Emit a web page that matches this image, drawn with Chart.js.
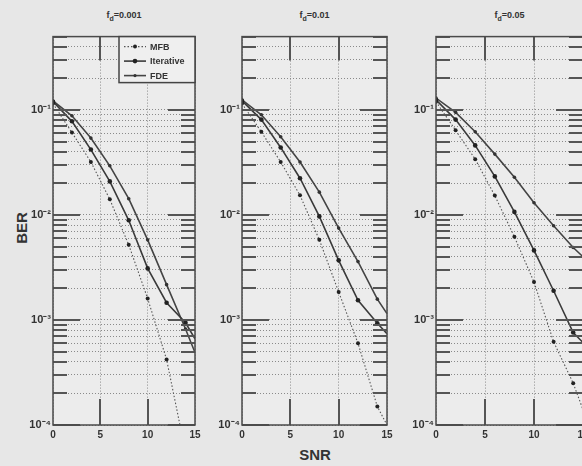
<!DOCTYPE html>
<html>
<head>
<meta charset="utf-8">
<script src="https://cdn.jsdelivr.net/npm/chart.js@4.4.0/dist/chart.umd.min.js"></script>
<style>
  html, body { margin: 0; padding: 0; }
  body {
    width: 582px; height: 466px; overflow: hidden; position: relative;
    background: #e7e7e7; color: #333;
    font-family: "Liberation Sans", Arial, sans-serif;
  }
  canvas { position: absolute; }
  .title {
    position: absolute; top: 10px; transform: translateX(-50%);
    font-size: 9px; font-weight: bold; white-space: nowrap;
  }
  .title sub { font-size: 7px; }
  #ylab {
    position: absolute; left: 21px; top: 228px;
    transform: translate(-50%, -50%) rotate(-90deg);
    font-size: 15px; font-weight: bold;
  }
  #xlab {
    position: absolute; left: 315px; top: 454px;
    transform: translate(-50%, -50%);
    font-size: 15px; font-weight: bold;
  }
</style>
</head>
<body>
<div id="ylab">BER</div>
<div id="xlab">SNR</div>
<script>
// Dữ liệu
const snr = [0, 2, 4, 6, 8, 10, 12, 14, 15];
const dopplers = ['0.001', '0.01', '0.05'];
const seriesNames = ['MFB', 'Iterative', 'FDE'];

// f_d = 0.001
const mfb1  = [0.115, 0.061, 0.032, 0.0141, 0.0052, 0.0016, 0.00042, 0.000055, 0.000025];
const iter1 = [0.12, 0.078, 0.042, 0.0209, 0.0089, 0.0031, 0.00146, 0.00094, 0.00066];
const fde1  = [0.122, 0.088, 0.054, 0.0294, 0.0143, 0.0058, 0.00217, 0.00082, 0.00049];

// f_d = 0.01
const mfb2  = [0.115, 0.062, 0.032, 0.0154, 0.0058, 0.00185, 0.0006, 0.00015, 0.0001];
const iter2 = [0.122, 0.081, 0.044, 0.0224, 0.0097, 0.0037, 0.00154, 0.00093, 0.00074];
const fde2  = [0.125, 0.09, 0.0556, 0.032, 0.0165, 0.0075, 0.0036, 0.00158, 0.00115];

// f_d = 0.05
const mfb3  = [0.12, 0.064, 0.034, 0.0153, 0.0062, 0.0023, 0.00062, 0.00025, 0.00014];
const iter3 = [0.125, 0.081, 0.046, 0.0233, 0.0107, 0.0046, 0.0019, 0.00076, 0.00061];
const fde3  = [0.13, 0.095, 0.062, 0.038, 0.0229, 0.0131, 0.0079, 0.0049, 0.004];

// Trục
const xTicks = [0, 5, 10, 15];
const yMajorTicks = [1e-4, 1e-3, 1e-2, 1e-1];
const yMajorLabels = ['10⁻⁴', '10⁻³', '10⁻²', '10⁻¹'];
const yMultipliers = [1, 2, 3, 4, 5, 6, 7, 8, 9];
const yMax = 0.5;

const panels = [
    { mfb: mfb1, iter: iter1, fde: fde1, left: 53, right: 195, legend: true },
    { mfb: mfb2, iter: iter2, fde: fde2, left: 242, right: 387, legend: false },
    { mfb: mfb3, iter: iter3, fde: fde3, left: 436, right: 583, legend: false }
];

const yTicks = [];
yMajorTicks.forEach(d => yMultipliers.forEach(m => {
    const v = d * m;
    if (v <= yMax * 1.0001) yTicks.push(v);
}));

function isMajor(v) {
    return yMajorTicks.findIndex(t => Math.abs(t - v) / t < 1e-6);
}

function toPoints(values) {
    return values.map((v, i) => ({ x: snr[i], y: v }));
}

// Chỉ vẽ điểm đánh dấu tại SNR chẵn
function markerRadius(r) {
    return ctx => (snr[ctx.dataIndex] % 2 === 0 ? r : 0);
}

// Nền vùng vẽ
const areaBg = {
    id: 'areaBg',
    beforeDraw(chart) {
        const { ctx, chartArea: a } = chart;
        ctx.save();
        ctx.fillStyle = '#ececec';
        ctx.fillRect(a.left, a.top, a.width, a.height);
        ctx.restore();
    }
};

// Khung và vạch chia bên trong (kiểu MATLAB)
const framePlugin = {
    id: 'frame',
    afterDraw(chart) {
        const { ctx, chartArea: a, scales } = chart;
        ctx.save();
        ctx.strokeStyle = '#555';
        ctx.lineWidth = 2;
        ctx.beginPath();
        scales.y.ticks.forEach(t => {
            const y = Math.round(scales.y.getPixelForValue(t.value));
            const len = isMajor(t.value) >= 0 ? 27 : 14;
            ctx.moveTo(a.left, y); ctx.lineTo(a.left + len, y);
            ctx.moveTo(a.right - len, y); ctx.lineTo(a.right, y);
        });
        scales.x.ticks.forEach(t => {
            if (t.value <= scales.x.min || t.value >= scales.x.max) return;
            const x = Math.round(scales.x.getPixelForValue(t.value));
            ctx.moveTo(x, a.top); ctx.lineTo(x, a.top + 24);
            ctx.moveTo(x, a.bottom); ctx.lineTo(x, a.bottom - 26);
        });
        ctx.stroke();
        ctx.lineWidth = 1.5;
        ctx.strokeStyle = '#4a4a4a';
        ctx.strokeRect(a.left, a.top, a.width, a.height);
        ctx.restore();
    }
};

// Chú thích bên trong ô đầu tiên
const innerLegend = {
    id: 'innerLegend',
    afterDraw(chart, args, opts) {
        if (!opts.display) return;
        const { ctx, chartArea: a } = chart;
        const w = 76, h = 46;
        const x0 = a.right - w, y0 = a.top;
        ctx.save();
        ctx.fillStyle = '#efefef';
        ctx.fillRect(x0, y0, w, h);
        ctx.strokeStyle = '#444';
        ctx.lineWidth = 1.5;
        ctx.strokeRect(x0, y0, w, h);
        chart.data.datasets.forEach((ds, i) => {
            const y = y0 + 10 + i * 14.5;
            ctx.strokeStyle = ds.borderColor;
            ctx.lineWidth = ds.borderWidth;
            ctx.setLineDash(ds.borderDash || []);
            ctx.beginPath();
            ctx.moveTo(x0 + 5, y); ctx.lineTo(x0 + 27, y);
            ctx.stroke();
            ctx.setLineDash([]);
            ctx.fillStyle = ds.pointBackgroundColor;
            ctx.beginPath();
            ctx.arc(x0 + 16, y, ds.legendRadius, 0, Math.PI * 2);
            ctx.fill();
            ctx.fillStyle = '#333';
            ctx.font = 'bold 9px "Liberation Sans", Arial, sans-serif';
            ctx.textBaseline = 'middle';
            ctx.fillText(ds.label, x0 + 31, y + 0.5);
        });
        ctx.restore();
    }
};

function makeDatasets(p) {
    return [
        {
            label: seriesNames[0],
            data: toPoints(p.mfb),
            borderColor: '#555',
            borderWidth: 1.1,
            borderDash: [1.5, 2],
            pointRadius: markerRadius(2),
            pointBackgroundColor: '#222',
            pointBorderWidth: 0,
            legendRadius: 2
        },
        {
            label: seriesNames[1],
            data: toPoints(p.iter),
            borderColor: '#3a3a3a',
            borderWidth: 1.6,
            pointRadius: markerRadius(2.3),
            pointBackgroundColor: '#222',
            pointBorderWidth: 0,
            legendRadius: 2.3
        },
        {
            label: seriesNames[2],
            data: toPoints(p.fde),
            borderColor: '#444',
            borderWidth: 1.6,
            pointRadius: markerRadius(1.8),
            pointBackgroundColor: '#333',
            pointBorderWidth: 0,
            legendRadius: 1.6
        }
    ];
}

const tickFont = { family: '"Liberation Sans", Arial, sans-serif', size: 10, weight: 'bold' };
const yTickFont = { family: '"Liberation Sans", Arial, sans-serif', size: 11, weight: 'bold' };

panels.forEach((p, idx) => {
    // Tiêu đề f_d
    const title = document.createElement('div');
    title.className = 'title';
    title.style.left = ((p.left + p.right) / 2) + 'px';
    title.innerHTML = 'f<sub>d</sub>=' + dopplers[idx];
    document.body.appendChild(title);

    const yAxisW = 30, xAxisH = 20, padTop = 4, padRight = 10;
    const canvas = document.createElement('canvas');
    canvas.width = (p.right - p.left) + yAxisW + padRight;
    canvas.height = 425 - 28 + xAxisH;
    canvas.style.left = (p.left - yAxisW) + 'px';
    canvas.style.top = (32 - padTop) + 'px';
    document.body.appendChild(canvas);

    new Chart(canvas.getContext('2d'), {
        type: 'line',
        data: { datasets: makeDatasets(p) },
        options: {
            responsive: false,
            animation: false,
            layout: { padding: { top: padTop, right: padRight, left: 0, bottom: 0 } },
            elements: { line: { tension: 0 } },
            plugins: {
                legend: { display: false },
                tooltip: { enabled: false },
                innerLegend: { display: p.legend }
            },
            scales: {
                x: {
                    type: 'linear',
                    min: 0,
                    max: 15,
                    afterBuildTicks: s => { s.ticks = xTicks.map(v => ({ value: v })); },
                    afterFit: s => { s.height = xAxisH; },
                    grid: { color: '#8a8a8a', lineWidth: 1, drawTicks: false },
                    border: { display: false, dash: [1, 2] },
                    ticks: { color: '#333', font: tickFont, padding: 4, maxRotation: 0 }
                },
                y: {
                    type: 'logarithmic',
                    min: 1e-4,
                    max: yMax,
                    afterBuildTicks: s => { s.ticks = yTicks.map(v => ({ value: v })); },
                    afterFit: s => { s.width = yAxisW; },
                    grid: { color: '#8a8a8a', lineWidth: 1, drawTicks: false },
                    border: { display: false, dash: [1, 2] },
                    ticks: {
                        color: '#333',
                        font: yTickFont,
                        padding: 2,
                        autoSkip: false,
                        callback: v => {
                            const i = isMajor(v);
                            return i >= 0 ? yMajorLabels[i] : '';
                        }
                    }
                }
            }
        },
        plugins: [areaBg, framePlugin, innerLegend]
    });
});
</script>
</body>
</html>
